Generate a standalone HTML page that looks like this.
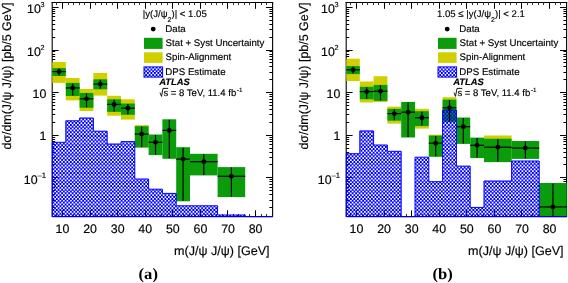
<!DOCTYPE html>
<html><head><meta charset="utf-8"><style>html,body{margin:0;padding:0;background:#fff;}body{width:568px;height:283px;overflow:hidden;font-family:"Liberation Sans",sans-serif;}svg{display:block;will-change:transform;text-rendering:geometricPrecision;}.s text{stroke:#000;stroke-width:0.15px;}</style></head><body>
<svg width="568" height="283" viewBox="0 0 568 283">
<defs>
<pattern id="hatch" width="7" height="37" patternUnits="userSpaceOnUse"><path d="M0,0h7v37h-7z M0.05,0.08h1.65v1.7h-1.65z M1.8,1.93h1.65v1.7h-1.65z M3.55,0.08h1.65v1.7h-1.65z M5.3,1.93h1.65v1.7h-1.65z M0.05,3.78h1.65v1.7h-1.65z M1.8,5.63h1.65v1.7h-1.65z M3.55,3.78h1.65v1.7h-1.65z M5.3,5.63h1.65v1.7h-1.65z M0.05,7.48h1.65v1.7h-1.65z M1.8,9.32h1.65v1.7h-1.65z M3.55,7.48h1.65v1.7h-1.65z M5.3,9.32h1.65v1.7h-1.65z M0.05,11.18h1.65v1.7h-1.65z M1.8,13.03h1.65v1.7h-1.65z M3.55,11.18h1.65v1.7h-1.65z M5.3,13.03h1.65v1.7h-1.65z M0.05,14.88h1.65v1.7h-1.65z M1.8,16.73h1.65v1.7h-1.65z M3.55,14.88h1.65v1.7h-1.65z M5.3,16.73h1.65v1.7h-1.65z M0.05,18.57h1.65v1.7h-1.65z M1.8,20.43h1.65v1.7h-1.65z M3.55,18.57h1.65v1.7h-1.65z M5.3,20.43h1.65v1.7h-1.65z M0.05,22.28h1.65v1.7h-1.65z M1.8,24.13h1.65v1.7h-1.65z M3.55,22.28h1.65v1.7h-1.65z M5.3,24.13h1.65v1.7h-1.65z M0.05,25.98h1.65v1.7h-1.65z M1.8,27.83h1.65v1.7h-1.65z M3.55,25.98h1.65v1.7h-1.65z M5.3,27.83h1.65v1.7h-1.65z M0.05,29.68h1.65v1.7h-1.65z M1.8,31.53h1.65v1.7h-1.65z M3.55,29.68h1.65v1.7h-1.65z M5.3,31.53h1.65v1.7h-1.65z M0.05,33.38h1.65v1.7h-1.65z M1.8,35.23h1.65v1.7h-1.65z M3.55,33.38h1.65v1.7h-1.65z M5.3,35.23h1.65v1.7h-1.65z" fill="#0000ff" fill-rule="evenodd"/></pattern>
</defs>
<rect width="568" height="283" fill="#fff"/>
<line x1="52.2" y1="217.1" x2="52.2" y2="2" stroke="#000" stroke-width="1.1"/>
<line x1="51.65" y1="2.5" x2="273.15" y2="2.5" stroke="#000" stroke-width="1"/>
<line x1="272.6" y1="2" x2="272.6" y2="217.1" stroke="#000" stroke-width="1.1"/>
<line x1="56.5" y1="2.5" x2="56.5" y2="5.1" stroke="#333" stroke-width="1"/>
<line x1="56.5" y1="216.6" x2="56.5" y2="214" stroke="#333" stroke-width="1"/>
<line x1="62.5" y1="2.5" x2="62.5" y2="8.8" stroke="#000" stroke-width="1"/>
<line x1="62.5" y1="216.6" x2="62.5" y2="210.3" stroke="#000" stroke-width="1"/>
<line x1="68.5" y1="2.5" x2="68.5" y2="5.1" stroke="#333" stroke-width="1"/>
<line x1="68.5" y1="216.6" x2="68.5" y2="214" stroke="#333" stroke-width="1"/>
<line x1="73.5" y1="2.5" x2="73.5" y2="5.1" stroke="#333" stroke-width="1"/>
<line x1="73.5" y1="216.6" x2="73.5" y2="214" stroke="#333" stroke-width="1"/>
<line x1="79.5" y1="2.5" x2="79.5" y2="5.1" stroke="#333" stroke-width="1"/>
<line x1="79.5" y1="216.6" x2="79.5" y2="214" stroke="#333" stroke-width="1"/>
<line x1="84.5" y1="2.5" x2="84.5" y2="5.1" stroke="#333" stroke-width="1"/>
<line x1="84.5" y1="216.6" x2="84.5" y2="214" stroke="#333" stroke-width="1"/>
<line x1="90.5" y1="2.5" x2="90.5" y2="8.8" stroke="#000" stroke-width="1"/>
<line x1="90.5" y1="216.6" x2="90.5" y2="210.3" stroke="#000" stroke-width="1"/>
<line x1="95.5" y1="2.5" x2="95.5" y2="5.1" stroke="#333" stroke-width="1"/>
<line x1="95.5" y1="216.6" x2="95.5" y2="214" stroke="#333" stroke-width="1"/>
<line x1="101.5" y1="2.5" x2="101.5" y2="5.1" stroke="#333" stroke-width="1"/>
<line x1="101.5" y1="216.6" x2="101.5" y2="214" stroke="#333" stroke-width="1"/>
<line x1="106.5" y1="2.5" x2="106.5" y2="5.1" stroke="#333" stroke-width="1"/>
<line x1="106.5" y1="216.6" x2="106.5" y2="214" stroke="#333" stroke-width="1"/>
<line x1="112.5" y1="2.5" x2="112.5" y2="5.1" stroke="#333" stroke-width="1"/>
<line x1="112.5" y1="216.6" x2="112.5" y2="214" stroke="#333" stroke-width="1"/>
<line x1="117.5" y1="2.5" x2="117.5" y2="8.8" stroke="#000" stroke-width="1"/>
<line x1="117.5" y1="216.6" x2="117.5" y2="210.3" stroke="#000" stroke-width="1"/>
<line x1="123.5" y1="2.5" x2="123.5" y2="5.1" stroke="#333" stroke-width="1"/>
<line x1="123.5" y1="216.6" x2="123.5" y2="214" stroke="#333" stroke-width="1"/>
<line x1="128.5" y1="2.5" x2="128.5" y2="5.1" stroke="#333" stroke-width="1"/>
<line x1="128.5" y1="216.6" x2="128.5" y2="214" stroke="#333" stroke-width="1"/>
<line x1="134.5" y1="2.5" x2="134.5" y2="5.1" stroke="#333" stroke-width="1"/>
<line x1="134.5" y1="216.6" x2="134.5" y2="214" stroke="#333" stroke-width="1"/>
<line x1="139.5" y1="2.5" x2="139.5" y2="5.1" stroke="#333" stroke-width="1"/>
<line x1="139.5" y1="216.6" x2="139.5" y2="214" stroke="#333" stroke-width="1"/>
<line x1="145.5" y1="2.5" x2="145.5" y2="8.8" stroke="#000" stroke-width="1"/>
<line x1="145.5" y1="216.6" x2="145.5" y2="210.3" stroke="#000" stroke-width="1"/>
<line x1="150.5" y1="2.5" x2="150.5" y2="5.1" stroke="#333" stroke-width="1"/>
<line x1="150.5" y1="216.6" x2="150.5" y2="214" stroke="#333" stroke-width="1"/>
<line x1="156.5" y1="2.5" x2="156.5" y2="5.1" stroke="#333" stroke-width="1"/>
<line x1="156.5" y1="216.6" x2="156.5" y2="214" stroke="#333" stroke-width="1"/>
<line x1="161.5" y1="2.5" x2="161.5" y2="5.1" stroke="#333" stroke-width="1"/>
<line x1="161.5" y1="216.6" x2="161.5" y2="214" stroke="#333" stroke-width="1"/>
<line x1="167.5" y1="2.5" x2="167.5" y2="5.1" stroke="#333" stroke-width="1"/>
<line x1="167.5" y1="216.6" x2="167.5" y2="214" stroke="#333" stroke-width="1"/>
<line x1="172.5" y1="2.5" x2="172.5" y2="8.8" stroke="#000" stroke-width="1"/>
<line x1="172.5" y1="216.6" x2="172.5" y2="210.3" stroke="#000" stroke-width="1"/>
<line x1="178.5" y1="2.5" x2="178.5" y2="5.1" stroke="#333" stroke-width="1"/>
<line x1="178.5" y1="216.6" x2="178.5" y2="214" stroke="#333" stroke-width="1"/>
<line x1="183.5" y1="2.5" x2="183.5" y2="5.1" stroke="#333" stroke-width="1"/>
<line x1="183.5" y1="216.6" x2="183.5" y2="214" stroke="#333" stroke-width="1"/>
<line x1="189.5" y1="2.5" x2="189.5" y2="5.1" stroke="#333" stroke-width="1"/>
<line x1="189.5" y1="216.6" x2="189.5" y2="214" stroke="#333" stroke-width="1"/>
<line x1="194.5" y1="2.5" x2="194.5" y2="5.1" stroke="#333" stroke-width="1"/>
<line x1="194.5" y1="216.6" x2="194.5" y2="214" stroke="#333" stroke-width="1"/>
<line x1="200.5" y1="2.5" x2="200.5" y2="8.8" stroke="#000" stroke-width="1"/>
<line x1="200.5" y1="216.6" x2="200.5" y2="210.3" stroke="#000" stroke-width="1"/>
<line x1="205.5" y1="2.5" x2="205.5" y2="5.1" stroke="#333" stroke-width="1"/>
<line x1="205.5" y1="216.6" x2="205.5" y2="214" stroke="#333" stroke-width="1"/>
<line x1="211.5" y1="2.5" x2="211.5" y2="5.1" stroke="#333" stroke-width="1"/>
<line x1="211.5" y1="216.6" x2="211.5" y2="214" stroke="#333" stroke-width="1"/>
<line x1="216.5" y1="2.5" x2="216.5" y2="5.1" stroke="#333" stroke-width="1"/>
<line x1="216.5" y1="216.6" x2="216.5" y2="214" stroke="#333" stroke-width="1"/>
<line x1="222.5" y1="2.5" x2="222.5" y2="5.1" stroke="#333" stroke-width="1"/>
<line x1="222.5" y1="216.6" x2="222.5" y2="214" stroke="#333" stroke-width="1"/>
<line x1="227.5" y1="2.5" x2="227.5" y2="8.8" stroke="#000" stroke-width="1"/>
<line x1="227.5" y1="216.6" x2="227.5" y2="210.3" stroke="#000" stroke-width="1"/>
<line x1="233.5" y1="2.5" x2="233.5" y2="5.1" stroke="#333" stroke-width="1"/>
<line x1="233.5" y1="216.6" x2="233.5" y2="214" stroke="#333" stroke-width="1"/>
<line x1="238.5" y1="2.5" x2="238.5" y2="5.1" stroke="#333" stroke-width="1"/>
<line x1="238.5" y1="216.6" x2="238.5" y2="214" stroke="#333" stroke-width="1"/>
<line x1="244.5" y1="2.5" x2="244.5" y2="5.1" stroke="#333" stroke-width="1"/>
<line x1="244.5" y1="216.6" x2="244.5" y2="214" stroke="#333" stroke-width="1"/>
<line x1="249.5" y1="2.5" x2="249.5" y2="5.1" stroke="#333" stroke-width="1"/>
<line x1="249.5" y1="216.6" x2="249.5" y2="214" stroke="#333" stroke-width="1"/>
<line x1="255.5" y1="2.5" x2="255.5" y2="8.8" stroke="#000" stroke-width="1"/>
<line x1="255.5" y1="216.6" x2="255.5" y2="210.3" stroke="#000" stroke-width="1"/>
<line x1="261.5" y1="2.5" x2="261.5" y2="5.1" stroke="#333" stroke-width="1"/>
<line x1="261.5" y1="216.6" x2="261.5" y2="214" stroke="#333" stroke-width="1"/>
<line x1="266.5" y1="2.5" x2="266.5" y2="5.1" stroke="#333" stroke-width="1"/>
<line x1="266.5" y1="216.6" x2="266.5" y2="214" stroke="#333" stroke-width="1"/>
<line x1="52" y1="207.5" x2="55.2" y2="207.5" stroke="#000" stroke-width="1"/>
<line x1="272.6" y1="207.5" x2="269.4" y2="207.5" stroke="#000" stroke-width="1"/>
<line x1="52" y1="200.5" x2="55.2" y2="200.5" stroke="#000" stroke-width="1"/>
<line x1="272.6" y1="200.5" x2="269.4" y2="200.5" stroke="#000" stroke-width="1"/>
<line x1="52" y1="194.5" x2="55.2" y2="194.5" stroke="#000" stroke-width="1"/>
<line x1="272.6" y1="194.5" x2="269.4" y2="194.5" stroke="#000" stroke-width="1"/>
<line x1="52" y1="190.5" x2="55.2" y2="190.5" stroke="#000" stroke-width="1"/>
<line x1="272.6" y1="190.5" x2="269.4" y2="190.5" stroke="#000" stroke-width="1"/>
<line x1="52" y1="187.5" x2="55.2" y2="187.5" stroke="#000" stroke-width="1"/>
<line x1="272.6" y1="187.5" x2="269.4" y2="187.5" stroke="#000" stroke-width="1"/>
<line x1="52" y1="184.5" x2="55.2" y2="184.5" stroke="#000" stroke-width="1"/>
<line x1="272.6" y1="184.5" x2="269.4" y2="184.5" stroke="#000" stroke-width="1"/>
<line x1="52" y1="181.5" x2="55.2" y2="181.5" stroke="#000" stroke-width="1"/>
<line x1="272.6" y1="181.5" x2="269.4" y2="181.5" stroke="#000" stroke-width="1"/>
<line x1="52" y1="179.5" x2="55.2" y2="179.5" stroke="#000" stroke-width="1"/>
<line x1="272.6" y1="179.5" x2="269.4" y2="179.5" stroke="#000" stroke-width="1"/>
<line x1="52" y1="177.5" x2="58.6" y2="177.5" stroke="#000" stroke-width="1"/>
<line x1="272.6" y1="177.5" x2="266" y2="177.5" stroke="#000" stroke-width="1"/>
<line x1="52" y1="164.5" x2="55.2" y2="164.5" stroke="#000" stroke-width="1"/>
<line x1="272.6" y1="164.5" x2="269.4" y2="164.5" stroke="#000" stroke-width="1"/>
<line x1="52" y1="157.5" x2="55.2" y2="157.5" stroke="#000" stroke-width="1"/>
<line x1="272.6" y1="157.5" x2="269.4" y2="157.5" stroke="#000" stroke-width="1"/>
<line x1="52" y1="152.5" x2="55.2" y2="152.5" stroke="#000" stroke-width="1"/>
<line x1="272.6" y1="152.5" x2="269.4" y2="152.5" stroke="#000" stroke-width="1"/>
<line x1="52" y1="148.5" x2="55.2" y2="148.5" stroke="#000" stroke-width="1"/>
<line x1="272.6" y1="148.5" x2="269.4" y2="148.5" stroke="#000" stroke-width="1"/>
<line x1="52" y1="144.5" x2="55.2" y2="144.5" stroke="#000" stroke-width="1"/>
<line x1="272.6" y1="144.5" x2="269.4" y2="144.5" stroke="#000" stroke-width="1"/>
<line x1="52" y1="141.5" x2="55.2" y2="141.5" stroke="#000" stroke-width="1"/>
<line x1="272.6" y1="141.5" x2="269.4" y2="141.5" stroke="#000" stroke-width="1"/>
<line x1="52" y1="139.5" x2="55.2" y2="139.5" stroke="#000" stroke-width="1"/>
<line x1="272.6" y1="139.5" x2="269.4" y2="139.5" stroke="#000" stroke-width="1"/>
<line x1="52" y1="137.5" x2="55.2" y2="137.5" stroke="#000" stroke-width="1"/>
<line x1="272.6" y1="137.5" x2="269.4" y2="137.5" stroke="#000" stroke-width="1"/>
<line x1="52" y1="135.5" x2="58.6" y2="135.5" stroke="#000" stroke-width="1"/>
<line x1="272.6" y1="135.5" x2="266" y2="135.5" stroke="#000" stroke-width="1"/>
<line x1="52" y1="122.5" x2="55.2" y2="122.5" stroke="#000" stroke-width="1"/>
<line x1="272.6" y1="122.5" x2="269.4" y2="122.5" stroke="#000" stroke-width="1"/>
<line x1="52" y1="114.5" x2="55.2" y2="114.5" stroke="#000" stroke-width="1"/>
<line x1="272.6" y1="114.5" x2="269.4" y2="114.5" stroke="#000" stroke-width="1"/>
<line x1="52" y1="109.5" x2="55.2" y2="109.5" stroke="#000" stroke-width="1"/>
<line x1="272.6" y1="109.5" x2="269.4" y2="109.5" stroke="#000" stroke-width="1"/>
<line x1="52" y1="105.5" x2="55.2" y2="105.5" stroke="#000" stroke-width="1"/>
<line x1="272.6" y1="105.5" x2="269.4" y2="105.5" stroke="#000" stroke-width="1"/>
<line x1="52" y1="102.5" x2="55.2" y2="102.5" stroke="#000" stroke-width="1"/>
<line x1="272.6" y1="102.5" x2="269.4" y2="102.5" stroke="#000" stroke-width="1"/>
<line x1="52" y1="99.5" x2="55.2" y2="99.5" stroke="#000" stroke-width="1"/>
<line x1="272.6" y1="99.5" x2="269.4" y2="99.5" stroke="#000" stroke-width="1"/>
<line x1="52" y1="96.5" x2="55.2" y2="96.5" stroke="#000" stroke-width="1"/>
<line x1="272.6" y1="96.5" x2="269.4" y2="96.5" stroke="#000" stroke-width="1"/>
<line x1="52" y1="94.5" x2="55.2" y2="94.5" stroke="#000" stroke-width="1"/>
<line x1="272.6" y1="94.5" x2="269.4" y2="94.5" stroke="#000" stroke-width="1"/>
<line x1="52" y1="92.5" x2="58.6" y2="92.5" stroke="#000" stroke-width="1"/>
<line x1="272.6" y1="92.5" x2="266" y2="92.5" stroke="#000" stroke-width="1"/>
<line x1="52" y1="79.5" x2="55.2" y2="79.5" stroke="#000" stroke-width="1"/>
<line x1="272.6" y1="79.5" x2="269.4" y2="79.5" stroke="#000" stroke-width="1"/>
<line x1="52" y1="72.5" x2="55.2" y2="72.5" stroke="#000" stroke-width="1"/>
<line x1="272.6" y1="72.5" x2="269.4" y2="72.5" stroke="#000" stroke-width="1"/>
<line x1="52" y1="66.5" x2="55.2" y2="66.5" stroke="#000" stroke-width="1"/>
<line x1="272.6" y1="66.5" x2="269.4" y2="66.5" stroke="#000" stroke-width="1"/>
<line x1="52" y1="62.5" x2="55.2" y2="62.5" stroke="#000" stroke-width="1"/>
<line x1="272.6" y1="62.5" x2="269.4" y2="62.5" stroke="#000" stroke-width="1"/>
<line x1="52" y1="59.5" x2="55.2" y2="59.5" stroke="#000" stroke-width="1"/>
<line x1="272.6" y1="59.5" x2="269.4" y2="59.5" stroke="#000" stroke-width="1"/>
<line x1="52" y1="56.5" x2="55.2" y2="56.5" stroke="#000" stroke-width="1"/>
<line x1="272.6" y1="56.5" x2="269.4" y2="56.5" stroke="#000" stroke-width="1"/>
<line x1="52" y1="54.5" x2="55.2" y2="54.5" stroke="#000" stroke-width="1"/>
<line x1="272.6" y1="54.5" x2="269.4" y2="54.5" stroke="#000" stroke-width="1"/>
<line x1="52" y1="51.5" x2="55.2" y2="51.5" stroke="#000" stroke-width="1"/>
<line x1="272.6" y1="51.5" x2="269.4" y2="51.5" stroke="#000" stroke-width="1"/>
<line x1="52" y1="50.5" x2="58.6" y2="50.5" stroke="#000" stroke-width="1"/>
<line x1="272.6" y1="50.5" x2="266" y2="50.5" stroke="#000" stroke-width="1"/>
<line x1="52" y1="37.5" x2="55.2" y2="37.5" stroke="#000" stroke-width="1"/>
<line x1="272.6" y1="37.5" x2="269.4" y2="37.5" stroke="#000" stroke-width="1"/>
<line x1="52" y1="29.5" x2="55.2" y2="29.5" stroke="#000" stroke-width="1"/>
<line x1="272.6" y1="29.5" x2="269.4" y2="29.5" stroke="#000" stroke-width="1"/>
<line x1="52" y1="24.5" x2="55.2" y2="24.5" stroke="#000" stroke-width="1"/>
<line x1="272.6" y1="24.5" x2="269.4" y2="24.5" stroke="#000" stroke-width="1"/>
<line x1="52" y1="20.5" x2="55.2" y2="20.5" stroke="#000" stroke-width="1"/>
<line x1="272.6" y1="20.5" x2="269.4" y2="20.5" stroke="#000" stroke-width="1"/>
<line x1="52" y1="16.5" x2="55.2" y2="16.5" stroke="#000" stroke-width="1"/>
<line x1="272.6" y1="16.5" x2="269.4" y2="16.5" stroke="#000" stroke-width="1"/>
<line x1="52" y1="13.5" x2="55.2" y2="13.5" stroke="#000" stroke-width="1"/>
<line x1="272.6" y1="13.5" x2="269.4" y2="13.5" stroke="#000" stroke-width="1"/>
<line x1="52" y1="11.5" x2="55.2" y2="11.5" stroke="#000" stroke-width="1"/>
<line x1="272.6" y1="11.5" x2="269.4" y2="11.5" stroke="#000" stroke-width="1"/>
<line x1="52" y1="9.5" x2="55.2" y2="9.5" stroke="#000" stroke-width="1"/>
<line x1="272.6" y1="9.5" x2="269.4" y2="9.5" stroke="#000" stroke-width="1"/>
<line x1="52" y1="7.5" x2="58.6" y2="7.5" stroke="#000" stroke-width="1"/>
<line x1="272.6" y1="7.5" x2="266" y2="7.5" stroke="#000" stroke-width="1"/>
<rect x="52.3" y="62" width="13.5" height="20.9" fill="#d0d000"/>
<rect x="65.8" y="78" width="13.8" height="22.4" fill="#d0d000"/>
<rect x="79.6" y="89" width="13.8" height="22" fill="#d0d000"/>
<rect x="93.4" y="72.9" width="13.8" height="22.7" fill="#d0d000"/>
<rect x="107.2" y="95.8" width="13.8" height="19.9" fill="#d0d000"/>
<rect x="121" y="99.3" width="13.8" height="20.3" fill="#d0d000"/>
<rect x="134.8" y="125.1" width="13.8" height="22.4" fill="#d0d000"/>
<rect x="52.3" y="68.1" width="13.5" height="7.9" fill="#0b9c0b"/>
<rect x="65.8" y="82.9" width="13.8" height="13.1" fill="#0b9c0b"/>
<rect x="79.6" y="92.9" width="13.8" height="14.9" fill="#0b9c0b"/>
<rect x="93.4" y="79.3" width="13.8" height="10" fill="#0b9c0b"/>
<rect x="107.2" y="99.3" width="13.8" height="12.6" fill="#0b9c0b"/>
<rect x="121" y="103.5" width="13.8" height="11.3" fill="#0b9c0b"/>
<rect x="134.8" y="126.2" width="13.8" height="21.3" fill="#0b9c0b"/>
<rect x="148.6" y="134.5" width="13.8" height="20.6" fill="#0b9c0b"/>
<rect x="162.4" y="119.3" width="13.8" height="39.5" fill="#0b9c0b"/>
<rect x="176.2" y="147.2" width="13.8" height="54.1" fill="#0b9c0b"/>
<rect x="190" y="153.8" width="27.6" height="21.6" fill="#0b9c0b"/>
<rect x="217.6" y="167.1" width="27.6" height="30" fill="#0b9c0b"/>
<path d="M52.3,216.6 L52.3,142.3 L65.8,142.3 L65.8,120.8 L79.6,120.8 L79.6,118 L93.4,118 L93.4,131.2 L107.2,131.2 L107.2,144 L121,144 L121,141.6 L134.8,141.6 L134.8,179 L148.6,179 L148.6,189.2 L162.4,189.2 L162.4,193.4 L176.2,193.4 L176.2,205.8 L190,205.8 L190,205.8 L217.6,205.8 L217.6,215 L245.2,215 L245.2,216.6 L272.7,216.6 L272.7,216.6 Z" fill="url(#hatch)"/>
<path d="M52.3,216.6 L52.3,142.3 L65.8,142.3 L65.8,120.8 L79.6,120.8 L79.6,118 L93.4,118 L93.4,131.2 L107.2,131.2 L107.2,144 L121,144 L121,141.6 L134.8,141.6 L134.8,179 L148.6,179 L148.6,189.2 L162.4,189.2 L162.4,193.4 L176.2,193.4 L176.2,205.8 L190,205.8 L190,205.8 L217.6,205.8 L217.6,215 L245.2,215 L245.2,216.6 L272.7,216.6 L272.7,216.6" fill="none" stroke="#0000ff" stroke-width="1"/>
<line x1="52.3" y1="216.6" x2="272.7" y2="216.6" stroke="#0000c8" stroke-width="1.2"/>
<line x1="52.3" y1="71.6" x2="65.8" y2="71.6" stroke="#000" stroke-width="1.2"/>
<line x1="59.05" y1="68.6" x2="59.05" y2="75.5" stroke="#000" stroke-width="1.2"/>
<circle cx="59.05" cy="71.6" r="2.4" fill="#000"/>
<line x1="65.8" y1="87.9" x2="79.6" y2="87.9" stroke="#000" stroke-width="1.2"/>
<line x1="72.7" y1="83.4" x2="72.7" y2="95.5" stroke="#000" stroke-width="1.2"/>
<circle cx="72.7" cy="87.9" r="2.4" fill="#000"/>
<line x1="79.6" y1="98.8" x2="93.4" y2="98.8" stroke="#000" stroke-width="1.2"/>
<line x1="86.5" y1="93.4" x2="86.5" y2="107.3" stroke="#000" stroke-width="1.2"/>
<circle cx="86.5" cy="98.8" r="2.4" fill="#000"/>
<line x1="93.4" y1="84.1" x2="107.2" y2="84.1" stroke="#000" stroke-width="1.2"/>
<line x1="100.3" y1="79.8" x2="100.3" y2="88.8" stroke="#000" stroke-width="1.2"/>
<circle cx="100.3" cy="84.1" r="2.4" fill="#000"/>
<line x1="107.2" y1="104.4" x2="121" y2="104.4" stroke="#000" stroke-width="1.2"/>
<line x1="114.1" y1="99.8" x2="114.1" y2="111.4" stroke="#000" stroke-width="1.2"/>
<circle cx="114.1" cy="104.4" r="2.4" fill="#000"/>
<line x1="121" y1="108.2" x2="134.8" y2="108.2" stroke="#000" stroke-width="1.2"/>
<line x1="127.9" y1="104" x2="127.9" y2="114.3" stroke="#000" stroke-width="1.2"/>
<circle cx="127.9" cy="108.2" r="2.4" fill="#000"/>
<line x1="134.8" y1="134.1" x2="148.6" y2="134.1" stroke="#000" stroke-width="1.2"/>
<line x1="141.7" y1="126.7" x2="141.7" y2="147" stroke="#000" stroke-width="1.2"/>
<circle cx="141.7" cy="134.1" r="2.4" fill="#000"/>
<line x1="148.6" y1="142.3" x2="162.4" y2="142.3" stroke="#000" stroke-width="1.2"/>
<line x1="155.5" y1="135" x2="155.5" y2="154.6" stroke="#000" stroke-width="1.2"/>
<circle cx="155.5" cy="142.3" r="2.4" fill="#000"/>
<line x1="162.4" y1="130.4" x2="176.2" y2="130.4" stroke="#000" stroke-width="1.2"/>
<line x1="169.3" y1="119.8" x2="169.3" y2="158.3" stroke="#000" stroke-width="1.2"/>
<circle cx="169.3" cy="130.4" r="2.4" fill="#000"/>
<line x1="176.2" y1="159.1" x2="190" y2="159.1" stroke="#000" stroke-width="1.2"/>
<line x1="183.1" y1="147.7" x2="183.1" y2="200.8" stroke="#000" stroke-width="1.2"/>
<circle cx="183.1" cy="159.1" r="2.4" fill="#000"/>
<line x1="190" y1="161.7" x2="217.6" y2="161.7" stroke="#000" stroke-width="1.2"/>
<line x1="203.8" y1="154.3" x2="203.8" y2="174.9" stroke="#000" stroke-width="1.2"/>
<circle cx="203.8" cy="161.7" r="2.4" fill="#000"/>
<line x1="217.6" y1="176.3" x2="245.2" y2="176.3" stroke="#000" stroke-width="1.2"/>
<line x1="231.4" y1="167.6" x2="231.4" y2="196.6" stroke="#000" stroke-width="1.2"/>
<circle cx="231.4" cy="176.3" r="2.4" fill="#000"/>
<line x1="346.2" y1="217.1" x2="346.2" y2="2" stroke="#000" stroke-width="1.1"/>
<line x1="345.65" y1="2.5" x2="567.15" y2="2.5" stroke="#000" stroke-width="1"/>
<line x1="566.6" y1="2" x2="566.6" y2="217.1" stroke="#000" stroke-width="1.1"/>
<line x1="350.5" y1="2.5" x2="350.5" y2="5.1" stroke="#333" stroke-width="1"/>
<line x1="350.5" y1="216.6" x2="350.5" y2="214" stroke="#333" stroke-width="1"/>
<line x1="356.5" y1="2.5" x2="356.5" y2="8.8" stroke="#000" stroke-width="1"/>
<line x1="356.5" y1="216.6" x2="356.5" y2="210.3" stroke="#000" stroke-width="1"/>
<line x1="362.5" y1="2.5" x2="362.5" y2="5.1" stroke="#333" stroke-width="1"/>
<line x1="362.5" y1="216.6" x2="362.5" y2="214" stroke="#333" stroke-width="1"/>
<line x1="367.5" y1="2.5" x2="367.5" y2="5.1" stroke="#333" stroke-width="1"/>
<line x1="367.5" y1="216.6" x2="367.5" y2="214" stroke="#333" stroke-width="1"/>
<line x1="373.5" y1="2.5" x2="373.5" y2="5.1" stroke="#333" stroke-width="1"/>
<line x1="373.5" y1="216.6" x2="373.5" y2="214" stroke="#333" stroke-width="1"/>
<line x1="378.5" y1="2.5" x2="378.5" y2="5.1" stroke="#333" stroke-width="1"/>
<line x1="378.5" y1="216.6" x2="378.5" y2="214" stroke="#333" stroke-width="1"/>
<line x1="384.5" y1="2.5" x2="384.5" y2="8.8" stroke="#000" stroke-width="1"/>
<line x1="384.5" y1="216.6" x2="384.5" y2="210.3" stroke="#000" stroke-width="1"/>
<line x1="389.5" y1="2.5" x2="389.5" y2="5.1" stroke="#333" stroke-width="1"/>
<line x1="389.5" y1="216.6" x2="389.5" y2="214" stroke="#333" stroke-width="1"/>
<line x1="395.5" y1="2.5" x2="395.5" y2="5.1" stroke="#333" stroke-width="1"/>
<line x1="395.5" y1="216.6" x2="395.5" y2="214" stroke="#333" stroke-width="1"/>
<line x1="400.5" y1="2.5" x2="400.5" y2="5.1" stroke="#333" stroke-width="1"/>
<line x1="400.5" y1="216.6" x2="400.5" y2="214" stroke="#333" stroke-width="1"/>
<line x1="406.5" y1="2.5" x2="406.5" y2="5.1" stroke="#333" stroke-width="1"/>
<line x1="406.5" y1="216.6" x2="406.5" y2="214" stroke="#333" stroke-width="1"/>
<line x1="411.5" y1="2.5" x2="411.5" y2="8.8" stroke="#000" stroke-width="1"/>
<line x1="411.5" y1="216.6" x2="411.5" y2="210.3" stroke="#000" stroke-width="1"/>
<line x1="417.5" y1="2.5" x2="417.5" y2="5.1" stroke="#333" stroke-width="1"/>
<line x1="417.5" y1="216.6" x2="417.5" y2="214" stroke="#333" stroke-width="1"/>
<line x1="422.5" y1="2.5" x2="422.5" y2="5.1" stroke="#333" stroke-width="1"/>
<line x1="422.5" y1="216.6" x2="422.5" y2="214" stroke="#333" stroke-width="1"/>
<line x1="428.5" y1="2.5" x2="428.5" y2="5.1" stroke="#333" stroke-width="1"/>
<line x1="428.5" y1="216.6" x2="428.5" y2="214" stroke="#333" stroke-width="1"/>
<line x1="433.5" y1="2.5" x2="433.5" y2="5.1" stroke="#333" stroke-width="1"/>
<line x1="433.5" y1="216.6" x2="433.5" y2="214" stroke="#333" stroke-width="1"/>
<line x1="439.5" y1="2.5" x2="439.5" y2="8.8" stroke="#000" stroke-width="1"/>
<line x1="439.5" y1="216.6" x2="439.5" y2="210.3" stroke="#000" stroke-width="1"/>
<line x1="444.5" y1="2.5" x2="444.5" y2="5.1" stroke="#333" stroke-width="1"/>
<line x1="444.5" y1="216.6" x2="444.5" y2="214" stroke="#333" stroke-width="1"/>
<line x1="450.5" y1="2.5" x2="450.5" y2="5.1" stroke="#333" stroke-width="1"/>
<line x1="450.5" y1="216.6" x2="450.5" y2="214" stroke="#333" stroke-width="1"/>
<line x1="455.5" y1="2.5" x2="455.5" y2="5.1" stroke="#333" stroke-width="1"/>
<line x1="455.5" y1="216.6" x2="455.5" y2="214" stroke="#333" stroke-width="1"/>
<line x1="461.5" y1="2.5" x2="461.5" y2="5.1" stroke="#333" stroke-width="1"/>
<line x1="461.5" y1="216.6" x2="461.5" y2="214" stroke="#333" stroke-width="1"/>
<line x1="466.5" y1="2.5" x2="466.5" y2="8.8" stroke="#000" stroke-width="1"/>
<line x1="466.5" y1="216.6" x2="466.5" y2="210.3" stroke="#000" stroke-width="1"/>
<line x1="472.5" y1="2.5" x2="472.5" y2="5.1" stroke="#333" stroke-width="1"/>
<line x1="472.5" y1="216.6" x2="472.5" y2="214" stroke="#333" stroke-width="1"/>
<line x1="477.5" y1="2.5" x2="477.5" y2="5.1" stroke="#333" stroke-width="1"/>
<line x1="477.5" y1="216.6" x2="477.5" y2="214" stroke="#333" stroke-width="1"/>
<line x1="483.5" y1="2.5" x2="483.5" y2="5.1" stroke="#333" stroke-width="1"/>
<line x1="483.5" y1="216.6" x2="483.5" y2="214" stroke="#333" stroke-width="1"/>
<line x1="488.5" y1="2.5" x2="488.5" y2="5.1" stroke="#333" stroke-width="1"/>
<line x1="488.5" y1="216.6" x2="488.5" y2="214" stroke="#333" stroke-width="1"/>
<line x1="494.5" y1="2.5" x2="494.5" y2="8.8" stroke="#000" stroke-width="1"/>
<line x1="494.5" y1="216.6" x2="494.5" y2="210.3" stroke="#000" stroke-width="1"/>
<line x1="499.5" y1="2.5" x2="499.5" y2="5.1" stroke="#333" stroke-width="1"/>
<line x1="499.5" y1="216.6" x2="499.5" y2="214" stroke="#333" stroke-width="1"/>
<line x1="505.5" y1="2.5" x2="505.5" y2="5.1" stroke="#333" stroke-width="1"/>
<line x1="505.5" y1="216.6" x2="505.5" y2="214" stroke="#333" stroke-width="1"/>
<line x1="510.5" y1="2.5" x2="510.5" y2="5.1" stroke="#333" stroke-width="1"/>
<line x1="510.5" y1="216.6" x2="510.5" y2="214" stroke="#333" stroke-width="1"/>
<line x1="516.5" y1="2.5" x2="516.5" y2="5.1" stroke="#333" stroke-width="1"/>
<line x1="516.5" y1="216.6" x2="516.5" y2="214" stroke="#333" stroke-width="1"/>
<line x1="521.5" y1="2.5" x2="521.5" y2="8.8" stroke="#000" stroke-width="1"/>
<line x1="521.5" y1="216.6" x2="521.5" y2="210.3" stroke="#000" stroke-width="1"/>
<line x1="527.5" y1="2.5" x2="527.5" y2="5.1" stroke="#333" stroke-width="1"/>
<line x1="527.5" y1="216.6" x2="527.5" y2="214" stroke="#333" stroke-width="1"/>
<line x1="532.5" y1="2.5" x2="532.5" y2="5.1" stroke="#333" stroke-width="1"/>
<line x1="532.5" y1="216.6" x2="532.5" y2="214" stroke="#333" stroke-width="1"/>
<line x1="538.5" y1="2.5" x2="538.5" y2="5.1" stroke="#333" stroke-width="1"/>
<line x1="538.5" y1="216.6" x2="538.5" y2="214" stroke="#333" stroke-width="1"/>
<line x1="543.5" y1="2.5" x2="543.5" y2="5.1" stroke="#333" stroke-width="1"/>
<line x1="543.5" y1="216.6" x2="543.5" y2="214" stroke="#333" stroke-width="1"/>
<line x1="549.5" y1="2.5" x2="549.5" y2="8.8" stroke="#000" stroke-width="1"/>
<line x1="549.5" y1="216.6" x2="549.5" y2="210.3" stroke="#000" stroke-width="1"/>
<line x1="555.5" y1="2.5" x2="555.5" y2="5.1" stroke="#333" stroke-width="1"/>
<line x1="555.5" y1="216.6" x2="555.5" y2="214" stroke="#333" stroke-width="1"/>
<line x1="560.5" y1="2.5" x2="560.5" y2="5.1" stroke="#333" stroke-width="1"/>
<line x1="560.5" y1="216.6" x2="560.5" y2="214" stroke="#333" stroke-width="1"/>
<line x1="346" y1="207.5" x2="349.2" y2="207.5" stroke="#000" stroke-width="1"/>
<line x1="566.6" y1="207.5" x2="563.4" y2="207.5" stroke="#000" stroke-width="1"/>
<line x1="346" y1="200.5" x2="349.2" y2="200.5" stroke="#000" stroke-width="1"/>
<line x1="566.6" y1="200.5" x2="563.4" y2="200.5" stroke="#000" stroke-width="1"/>
<line x1="346" y1="194.5" x2="349.2" y2="194.5" stroke="#000" stroke-width="1"/>
<line x1="566.6" y1="194.5" x2="563.4" y2="194.5" stroke="#000" stroke-width="1"/>
<line x1="346" y1="190.5" x2="349.2" y2="190.5" stroke="#000" stroke-width="1"/>
<line x1="566.6" y1="190.5" x2="563.4" y2="190.5" stroke="#000" stroke-width="1"/>
<line x1="346" y1="187.5" x2="349.2" y2="187.5" stroke="#000" stroke-width="1"/>
<line x1="566.6" y1="187.5" x2="563.4" y2="187.5" stroke="#000" stroke-width="1"/>
<line x1="346" y1="184.5" x2="349.2" y2="184.5" stroke="#000" stroke-width="1"/>
<line x1="566.6" y1="184.5" x2="563.4" y2="184.5" stroke="#000" stroke-width="1"/>
<line x1="346" y1="181.5" x2="349.2" y2="181.5" stroke="#000" stroke-width="1"/>
<line x1="566.6" y1="181.5" x2="563.4" y2="181.5" stroke="#000" stroke-width="1"/>
<line x1="346" y1="179.5" x2="349.2" y2="179.5" stroke="#000" stroke-width="1"/>
<line x1="566.6" y1="179.5" x2="563.4" y2="179.5" stroke="#000" stroke-width="1"/>
<line x1="346" y1="177.5" x2="352.6" y2="177.5" stroke="#000" stroke-width="1"/>
<line x1="566.6" y1="177.5" x2="560" y2="177.5" stroke="#000" stroke-width="1"/>
<line x1="346" y1="164.5" x2="349.2" y2="164.5" stroke="#000" stroke-width="1"/>
<line x1="566.6" y1="164.5" x2="563.4" y2="164.5" stroke="#000" stroke-width="1"/>
<line x1="346" y1="157.5" x2="349.2" y2="157.5" stroke="#000" stroke-width="1"/>
<line x1="566.6" y1="157.5" x2="563.4" y2="157.5" stroke="#000" stroke-width="1"/>
<line x1="346" y1="152.5" x2="349.2" y2="152.5" stroke="#000" stroke-width="1"/>
<line x1="566.6" y1="152.5" x2="563.4" y2="152.5" stroke="#000" stroke-width="1"/>
<line x1="346" y1="148.5" x2="349.2" y2="148.5" stroke="#000" stroke-width="1"/>
<line x1="566.6" y1="148.5" x2="563.4" y2="148.5" stroke="#000" stroke-width="1"/>
<line x1="346" y1="144.5" x2="349.2" y2="144.5" stroke="#000" stroke-width="1"/>
<line x1="566.6" y1="144.5" x2="563.4" y2="144.5" stroke="#000" stroke-width="1"/>
<line x1="346" y1="141.5" x2="349.2" y2="141.5" stroke="#000" stroke-width="1"/>
<line x1="566.6" y1="141.5" x2="563.4" y2="141.5" stroke="#000" stroke-width="1"/>
<line x1="346" y1="139.5" x2="349.2" y2="139.5" stroke="#000" stroke-width="1"/>
<line x1="566.6" y1="139.5" x2="563.4" y2="139.5" stroke="#000" stroke-width="1"/>
<line x1="346" y1="137.5" x2="349.2" y2="137.5" stroke="#000" stroke-width="1"/>
<line x1="566.6" y1="137.5" x2="563.4" y2="137.5" stroke="#000" stroke-width="1"/>
<line x1="346" y1="135.5" x2="352.6" y2="135.5" stroke="#000" stroke-width="1"/>
<line x1="566.6" y1="135.5" x2="560" y2="135.5" stroke="#000" stroke-width="1"/>
<line x1="346" y1="122.5" x2="349.2" y2="122.5" stroke="#000" stroke-width="1"/>
<line x1="566.6" y1="122.5" x2="563.4" y2="122.5" stroke="#000" stroke-width="1"/>
<line x1="346" y1="114.5" x2="349.2" y2="114.5" stroke="#000" stroke-width="1"/>
<line x1="566.6" y1="114.5" x2="563.4" y2="114.5" stroke="#000" stroke-width="1"/>
<line x1="346" y1="109.5" x2="349.2" y2="109.5" stroke="#000" stroke-width="1"/>
<line x1="566.6" y1="109.5" x2="563.4" y2="109.5" stroke="#000" stroke-width="1"/>
<line x1="346" y1="105.5" x2="349.2" y2="105.5" stroke="#000" stroke-width="1"/>
<line x1="566.6" y1="105.5" x2="563.4" y2="105.5" stroke="#000" stroke-width="1"/>
<line x1="346" y1="102.5" x2="349.2" y2="102.5" stroke="#000" stroke-width="1"/>
<line x1="566.6" y1="102.5" x2="563.4" y2="102.5" stroke="#000" stroke-width="1"/>
<line x1="346" y1="99.5" x2="349.2" y2="99.5" stroke="#000" stroke-width="1"/>
<line x1="566.6" y1="99.5" x2="563.4" y2="99.5" stroke="#000" stroke-width="1"/>
<line x1="346" y1="96.5" x2="349.2" y2="96.5" stroke="#000" stroke-width="1"/>
<line x1="566.6" y1="96.5" x2="563.4" y2="96.5" stroke="#000" stroke-width="1"/>
<line x1="346" y1="94.5" x2="349.2" y2="94.5" stroke="#000" stroke-width="1"/>
<line x1="566.6" y1="94.5" x2="563.4" y2="94.5" stroke="#000" stroke-width="1"/>
<line x1="346" y1="92.5" x2="352.6" y2="92.5" stroke="#000" stroke-width="1"/>
<line x1="566.6" y1="92.5" x2="560" y2="92.5" stroke="#000" stroke-width="1"/>
<line x1="346" y1="79.5" x2="349.2" y2="79.5" stroke="#000" stroke-width="1"/>
<line x1="566.6" y1="79.5" x2="563.4" y2="79.5" stroke="#000" stroke-width="1"/>
<line x1="346" y1="72.5" x2="349.2" y2="72.5" stroke="#000" stroke-width="1"/>
<line x1="566.6" y1="72.5" x2="563.4" y2="72.5" stroke="#000" stroke-width="1"/>
<line x1="346" y1="66.5" x2="349.2" y2="66.5" stroke="#000" stroke-width="1"/>
<line x1="566.6" y1="66.5" x2="563.4" y2="66.5" stroke="#000" stroke-width="1"/>
<line x1="346" y1="62.5" x2="349.2" y2="62.5" stroke="#000" stroke-width="1"/>
<line x1="566.6" y1="62.5" x2="563.4" y2="62.5" stroke="#000" stroke-width="1"/>
<line x1="346" y1="59.5" x2="349.2" y2="59.5" stroke="#000" stroke-width="1"/>
<line x1="566.6" y1="59.5" x2="563.4" y2="59.5" stroke="#000" stroke-width="1"/>
<line x1="346" y1="56.5" x2="349.2" y2="56.5" stroke="#000" stroke-width="1"/>
<line x1="566.6" y1="56.5" x2="563.4" y2="56.5" stroke="#000" stroke-width="1"/>
<line x1="346" y1="54.5" x2="349.2" y2="54.5" stroke="#000" stroke-width="1"/>
<line x1="566.6" y1="54.5" x2="563.4" y2="54.5" stroke="#000" stroke-width="1"/>
<line x1="346" y1="51.5" x2="349.2" y2="51.5" stroke="#000" stroke-width="1"/>
<line x1="566.6" y1="51.5" x2="563.4" y2="51.5" stroke="#000" stroke-width="1"/>
<line x1="346" y1="50.5" x2="352.6" y2="50.5" stroke="#000" stroke-width="1"/>
<line x1="566.6" y1="50.5" x2="560" y2="50.5" stroke="#000" stroke-width="1"/>
<line x1="346" y1="37.5" x2="349.2" y2="37.5" stroke="#000" stroke-width="1"/>
<line x1="566.6" y1="37.5" x2="563.4" y2="37.5" stroke="#000" stroke-width="1"/>
<line x1="346" y1="29.5" x2="349.2" y2="29.5" stroke="#000" stroke-width="1"/>
<line x1="566.6" y1="29.5" x2="563.4" y2="29.5" stroke="#000" stroke-width="1"/>
<line x1="346" y1="24.5" x2="349.2" y2="24.5" stroke="#000" stroke-width="1"/>
<line x1="566.6" y1="24.5" x2="563.4" y2="24.5" stroke="#000" stroke-width="1"/>
<line x1="346" y1="20.5" x2="349.2" y2="20.5" stroke="#000" stroke-width="1"/>
<line x1="566.6" y1="20.5" x2="563.4" y2="20.5" stroke="#000" stroke-width="1"/>
<line x1="346" y1="16.5" x2="349.2" y2="16.5" stroke="#000" stroke-width="1"/>
<line x1="566.6" y1="16.5" x2="563.4" y2="16.5" stroke="#000" stroke-width="1"/>
<line x1="346" y1="13.5" x2="349.2" y2="13.5" stroke="#000" stroke-width="1"/>
<line x1="566.6" y1="13.5" x2="563.4" y2="13.5" stroke="#000" stroke-width="1"/>
<line x1="346" y1="11.5" x2="349.2" y2="11.5" stroke="#000" stroke-width="1"/>
<line x1="566.6" y1="11.5" x2="563.4" y2="11.5" stroke="#000" stroke-width="1"/>
<line x1="346" y1="9.5" x2="349.2" y2="9.5" stroke="#000" stroke-width="1"/>
<line x1="566.6" y1="9.5" x2="563.4" y2="9.5" stroke="#000" stroke-width="1"/>
<line x1="346" y1="7.5" x2="352.6" y2="7.5" stroke="#000" stroke-width="1"/>
<line x1="566.6" y1="7.5" x2="560" y2="7.5" stroke="#000" stroke-width="1"/>
<rect x="346.3" y="58.7" width="13.5" height="22.3" fill="#d0d000"/>
<rect x="359.8" y="81.5" width="13.8" height="21" fill="#d0d000"/>
<rect x="373.6" y="76.2" width="13.8" height="25.8" fill="#d0d000"/>
<rect x="387.4" y="106.6" width="13.8" height="17" fill="#d0d000"/>
<rect x="415" y="108.8" width="13.8" height="19.8" fill="#d0d000"/>
<rect x="428.8" y="134.7" width="13.8" height="22" fill="#d0d000"/>
<rect x="442.6" y="97.2" width="13.8" height="24.7" fill="#d0d000"/>
<rect x="484" y="135.5" width="27.6" height="26.6" fill="#d0d000"/>
<rect x="346.3" y="66.1" width="13.5" height="8" fill="#0b9c0b"/>
<rect x="359.8" y="86.8" width="13.8" height="12.5" fill="#0b9c0b"/>
<rect x="373.6" y="84.9" width="13.8" height="16" fill="#0b9c0b"/>
<rect x="387.4" y="108.8" width="13.8" height="11.9" fill="#0b9c0b"/>
<rect x="401.2" y="101.9" width="13.8" height="35.6" fill="#0b9c0b"/>
<rect x="415" y="111.2" width="13.8" height="14.9" fill="#0b9c0b"/>
<rect x="428.8" y="135.6" width="13.8" height="21.1" fill="#0b9c0b"/>
<rect x="442.6" y="99.6" width="13.8" height="22.3" fill="#0b9c0b"/>
<rect x="456.4" y="117.5" width="13.8" height="26.4" fill="#0b9c0b"/>
<rect x="470.2" y="137.6" width="13.8" height="20.5" fill="#0b9c0b"/>
<rect x="484" y="138.7" width="27.6" height="23.4" fill="#0b9c0b"/>
<rect x="511.6" y="141" width="27.6" height="17.9" fill="#0b9c0b"/>
<rect x="539.2" y="183" width="27.5" height="33.8" fill="#0b9c0b"/>
<path d="M346.3,216.6 L346.3,153.7 L359.8,153.7 L359.8,130.9 L373.6,130.9 L373.6,145 L387.4,145 L387.4,151.3 L401.2,151.3 L401.2,216.6 L415,216.6 L415,157.2 L428.8,157.2 L428.8,181.7 L442.6,181.7 L442.6,110.1 L456.4,110.1 L456.4,166.1 L470.2,166.1 L470.2,207.4 L484,207.4 L484,181 L511.6,181 L511.6,161 L539.2,161 L539.2,216.6 L566.7,216.6 L566.7,216.6 Z" fill="url(#hatch)"/>
<path d="M346.3,216.6 L346.3,153.7 L359.8,153.7 L359.8,130.9 L373.6,130.9 L373.6,145 L387.4,145 L387.4,151.3 L401.2,151.3 L401.2,216.6 L415,216.6 L415,157.2 L428.8,157.2 L428.8,181.7 L442.6,181.7 L442.6,110.1 L456.4,110.1 L456.4,166.1 L470.2,166.1 L470.2,207.4 L484,207.4 L484,181 L511.6,181 L511.6,161 L539.2,161 L539.2,216.6 L566.7,216.6 L566.7,216.6" fill="none" stroke="#0000ff" stroke-width="1"/>
<line x1="346.3" y1="216.6" x2="566.7" y2="216.6" stroke="#0000c8" stroke-width="1.2"/>
<line x1="346.3" y1="69.8" x2="359.8" y2="69.8" stroke="#000" stroke-width="1.2"/>
<line x1="353.05" y1="66.6" x2="353.05" y2="73.6" stroke="#000" stroke-width="1.2"/>
<circle cx="353.05" cy="69.8" r="2.4" fill="#000"/>
<line x1="359.8" y1="91.6" x2="373.6" y2="91.6" stroke="#000" stroke-width="1.2"/>
<line x1="366.7" y1="87.3" x2="366.7" y2="98.8" stroke="#000" stroke-width="1.2"/>
<circle cx="366.7" cy="91.6" r="2.4" fill="#000"/>
<line x1="373.6" y1="91.2" x2="387.4" y2="91.2" stroke="#000" stroke-width="1.2"/>
<line x1="380.5" y1="85.4" x2="380.5" y2="100.4" stroke="#000" stroke-width="1.2"/>
<circle cx="380.5" cy="91.2" r="2.4" fill="#000"/>
<line x1="387.4" y1="113.6" x2="401.2" y2="113.6" stroke="#000" stroke-width="1.2"/>
<line x1="394.3" y1="109.3" x2="394.3" y2="120.2" stroke="#000" stroke-width="1.2"/>
<circle cx="394.3" cy="113.6" r="2.4" fill="#000"/>
<line x1="401.2" y1="112.2" x2="415" y2="112.2" stroke="#000" stroke-width="1.2"/>
<line x1="408.1" y1="102.4" x2="408.1" y2="137" stroke="#000" stroke-width="1.2"/>
<circle cx="408.1" cy="112.2" r="2.4" fill="#000"/>
<line x1="415" y1="117.7" x2="428.8" y2="117.7" stroke="#000" stroke-width="1.2"/>
<line x1="421.9" y1="111.7" x2="421.9" y2="125.6" stroke="#000" stroke-width="1.2"/>
<circle cx="421.9" cy="117.7" r="2.4" fill="#000"/>
<line x1="428.8" y1="143.2" x2="442.6" y2="143.2" stroke="#000" stroke-width="1.2"/>
<line x1="435.7" y1="136.1" x2="435.7" y2="156.2" stroke="#000" stroke-width="1.2"/>
<circle cx="435.7" cy="143.2" r="2.4" fill="#000"/>
<line x1="442.6" y1="107.8" x2="456.4" y2="107.8" stroke="#000" stroke-width="1.2"/>
<line x1="449.5" y1="100.1" x2="449.5" y2="121.4" stroke="#000" stroke-width="1.2"/>
<circle cx="449.5" cy="107.8" r="2.4" fill="#000"/>
<line x1="456.4" y1="126.7" x2="470.2" y2="126.7" stroke="#000" stroke-width="1.2"/>
<line x1="463.3" y1="118" x2="463.3" y2="143.4" stroke="#000" stroke-width="1.2"/>
<circle cx="463.3" cy="126.7" r="2.4" fill="#000"/>
<line x1="470.2" y1="145.3" x2="484" y2="145.3" stroke="#000" stroke-width="1.2"/>
<line x1="477.1" y1="138.1" x2="477.1" y2="157.6" stroke="#000" stroke-width="1.2"/>
<circle cx="477.1" cy="145.3" r="2.4" fill="#000"/>
<line x1="484" y1="147.2" x2="511.6" y2="147.2" stroke="#000" stroke-width="1.2"/>
<line x1="497.8" y1="139.2" x2="497.8" y2="161.6" stroke="#000" stroke-width="1.2"/>
<circle cx="497.8" cy="147.2" r="2.4" fill="#000"/>
<line x1="511.6" y1="148.1" x2="539.2" y2="148.1" stroke="#000" stroke-width="1.2"/>
<line x1="525.4" y1="141.5" x2="525.4" y2="158.4" stroke="#000" stroke-width="1.2"/>
<circle cx="525.4" cy="148.1" r="2.4" fill="#000"/>
<line x1="539.2" y1="206.9" x2="566.7" y2="206.9" stroke="#000" stroke-width="1.2"/>
<line x1="552.95" y1="183.5" x2="552.95" y2="216.3" stroke="#000" stroke-width="1.2"/>
<circle cx="552.95" cy="206.9" r="2.4" fill="#000"/>
<g class="s" font-family="Liberation Sans, sans-serif" fill="#000">
<text x="40.8" y="13" font-size="12.4" text-anchor="end">10</text>
<text x="40.4" y="6.6" font-size="7.3" text-anchor="start">3</text>
<text x="40.8" y="55.9" font-size="12.4" text-anchor="end">10</text>
<text x="40.4" y="49.5" font-size="7.3" text-anchor="start">2</text>
<text x="46.3" y="97.9" font-size="12.4" text-anchor="end">10</text>
<text x="46.3" y="140.2" font-size="12.4" text-anchor="end">1</text>
<text x="37.6" y="183.6" font-size="12.4" text-anchor="end">10</text>
<text x="37.4" y="178" font-size="7.8" text-anchor="start">&#8211;1</text>
<text x="62.5" y="233.3" font-size="12.4" text-anchor="middle">10</text>
<text x="90.09" y="233.3" font-size="12.4" text-anchor="middle">20</text>
<text x="117.68" y="233.3" font-size="12.4" text-anchor="middle">30</text>
<text x="145.27" y="233.3" font-size="12.4" text-anchor="middle">40</text>
<text x="172.86" y="233.3" font-size="12.4" text-anchor="middle">50</text>
<text x="200.45" y="233.3" font-size="12.4" text-anchor="middle">60</text>
<text x="228.04" y="233.3" font-size="12.4" text-anchor="middle">70</text>
<text x="255.63" y="233.3" font-size="12.4" text-anchor="middle">80</text>
<text x="174" y="255.3" font-size="12.5" text-anchor="start" textLength="95.6" lengthAdjust="spacingAndGlyphs">m(J/&#968; J/&#968;) [GeV]</text>
<text x="334.8" y="13" font-size="12.4" text-anchor="end">10</text>
<text x="334.4" y="6.6" font-size="7.3" text-anchor="start">3</text>
<text x="334.8" y="55.9" font-size="12.4" text-anchor="end">10</text>
<text x="334.4" y="49.5" font-size="7.3" text-anchor="start">2</text>
<text x="340.3" y="97.9" font-size="12.4" text-anchor="end">10</text>
<text x="340.3" y="140.2" font-size="12.4" text-anchor="end">1</text>
<text x="331.6" y="183.6" font-size="12.4" text-anchor="end">10</text>
<text x="331.4" y="178" font-size="7.8" text-anchor="start">&#8211;1</text>
<text x="356.5" y="233.3" font-size="12.4" text-anchor="middle">10</text>
<text x="384.09" y="233.3" font-size="12.4" text-anchor="middle">20</text>
<text x="411.68" y="233.3" font-size="12.4" text-anchor="middle">30</text>
<text x="439.27" y="233.3" font-size="12.4" text-anchor="middle">40</text>
<text x="466.86" y="233.3" font-size="12.4" text-anchor="middle">50</text>
<text x="494.45" y="233.3" font-size="12.4" text-anchor="middle">60</text>
<text x="522.04" y="233.3" font-size="12.4" text-anchor="middle">70</text>
<text x="549.63" y="233.3" font-size="12.4" text-anchor="middle">80</text>
<text x="468" y="255.3" font-size="12.5" text-anchor="start" textLength="95.6" lengthAdjust="spacingAndGlyphs">m(J/&#968; J/&#968;) [GeV]</text>
<text transform="translate(11,149.6) rotate(-90)" font-size="12.5" textLength="147" lengthAdjust="spacingAndGlyphs">d&#963;/dm(J/&#968; J/&#968;) [pb/5 GeV]</text>
<text transform="translate(308.3,149.6) rotate(-90)" font-size="12.5" textLength="147" lengthAdjust="spacingAndGlyphs">d&#963;/dm(J/&#968; J/&#968;) [pb/5 GeV]</text>
<text x="142.8" y="17.4" font-size="9.6">|y(J/&#968;<tspan font-size="7" dy="4.6">2</tspan><tspan dy="-4.6">)| &lt; 1.05</tspan></text>
<circle cx="153.2" cy="29.1" r="2.45" fill="#000"/>
<text x="165.3" y="31.6" font-size="9.7" text-anchor="start">Data</text>
<rect x="144" y="37.8" width="18.6" height="11.1" fill="#0b9c0b"/>
<text x="165.6" y="46.2" font-size="9.7" text-anchor="start">Stat + Syst Uncertainty</text>
<rect x="144" y="52.3" width="18.6" height="10.6" fill="#d0d000"/>
<text x="165.6" y="60.2" font-size="9.7" text-anchor="start">Spin-Alignment</text>
<rect x="144" y="66.9" width="18.6" height="10.2" fill="url(#hatch)" stroke="#0000ff" stroke-width="1"/>
<text x="165.3" y="74.9" font-size="9.7" text-anchor="start">DPS Estimate</text>
<text x="159.3" y="84.8" font-size="9.4" font-weight="bold" font-style="italic">ATLAS</text>
<path d="M160,92.6 L161.5,96.4 L163,88.4 L168.2,88.4" fill="none" stroke="#000" stroke-width="0.9"/>
<text x="163.4" y="96.2" font-size="9.55" text-anchor="start">s = 8 TeV, 11.4 fb</text>
<text x="236.9" y="91.7" font-size="6.2" text-anchor="start">-1</text>
<text x="437" y="17.2" font-size="9.6">1.05 &#8804; |y(J/&#968;<tspan font-size="7" dy="4.6">2</tspan><tspan dy="-4.6">)| &lt; 2.1</tspan></text>
<circle cx="447.2" cy="29.1" r="2.45" fill="#000"/>
<text x="459.3" y="31.6" font-size="9.7" text-anchor="start">Data</text>
<rect x="438" y="37.8" width="18.6" height="11.1" fill="#0b9c0b"/>
<text x="459.6" y="46.2" font-size="9.7" text-anchor="start">Stat + Syst Uncertainty</text>
<rect x="438" y="52.3" width="18.6" height="10.6" fill="#d0d000"/>
<text x="459.6" y="60.2" font-size="9.7" text-anchor="start">Spin-Alignment</text>
<rect x="438" y="66.9" width="18.6" height="10.2" fill="url(#hatch)" stroke="#0000ff" stroke-width="1"/>
<text x="459.3" y="74.9" font-size="9.7" text-anchor="start">DPS Estimate</text>
<text x="453.3" y="84.8" font-size="9.4" font-weight="bold" font-style="italic">ATLAS</text>
<path d="M454,92.6 L455.5,96.4 L457,88.4 L462.2,88.4" fill="none" stroke="#000" stroke-width="0.9"/>
<text x="457.4" y="96.2" font-size="9.55" text-anchor="start">s = 8 TeV, 11.4 fb</text>
<text x="530.9" y="91.7" font-size="6.2" text-anchor="start">-1</text>
</g>
<g font-family="Liberation Serif, serif" font-weight="bold" fill="#000">
<text x="138.6" y="279.1" font-size="15.7" text-anchor="start" textLength="19.35" lengthAdjust="spacingAndGlyphs">(a)</text>
<text x="432.6" y="279.1" font-size="15.7" text-anchor="start" textLength="20.3" lengthAdjust="spacingAndGlyphs">(b)</text>
</g>
</svg>
</body></html>
